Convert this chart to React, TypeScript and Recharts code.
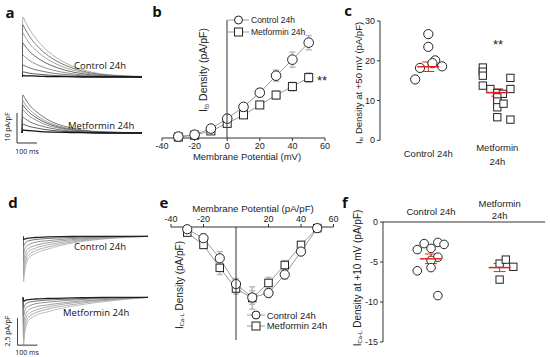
import React from 'react'
import { LineChart, Line, XAxis, YAxis, ScatterChart, Scatter, ErrorBar, ReferenceLine, Legend } from 'recharts'

const AXIS_FONT = '"Liberation Sans", Arial, sans-serif'
const TEXT_FONT = '"Open Sans", sans-serif'
const INK = '#222'
const RED = '#e8221c'

// a: Ito current traces (pA/pF), sampled at these times (ms)
const ITO_TIMES = [0, 4, 15, 35, 70, 110, 160, 220, 300, 400, 600]
const ITO_CONTROL_TRACES = [
    [0, 20.0, 18.6, 16.2, 12.8, 9.8, 7.0, 4.6, 2.5, 1.0, 0.2],
    [0, 17.4, 16.1, 13.8, 10.8, 8.2, 5.8, 3.8, 2.0, 0.8, 0.1],
    [0, 14.7, 13.5, 11.4, 8.9, 6.7, 4.7, 3.0, 1.6, 0.6, 0.1],
    [0, 11.3, 10.4, 8.7, 6.7, 5.0, 3.5, 2.2, 1.1, 0.4, 0.1],
    [0, 7.3, 6.7, 5.6, 4.3, 3.2, 2.2, 1.4, 0.7, 0.3, 0],
    [0, 4.0, 3.7, 3.1, 2.4, 1.8, 1.2, 0.8, 0.4, 0.1, 0],
    [0, 1.7, 1.6, 1.3, 1.0, 0.8, 0.5, 0.3, 0.2, 0.1, 0],
    [0, 0.5, 0.4, 0.4, 0.3, 0.2, 0.1, 0.1, 0, 0, 0],
]
const ITO_METFORMIN_TRACES = [
    [0, 12.7, 11.5, 9.5, 7.2, 5.2, 3.4, 2.1, 1.0, 0.4, 0.1],
    [0, 10.7, 9.7, 8.0, 6.0, 4.3, 2.8, 1.7, 0.8, 0.3, 0.1],
    [0, 9.3, 8.4, 6.9, 5.2, 3.7, 2.4, 1.4, 0.7, 0.3, 0],
    [0, 7.7, 7.0, 5.7, 4.3, 3.0, 2.0, 1.2, 0.6, 0.2, 0],
    [0, 5.3, 4.8, 3.9, 2.9, 2.1, 1.4, 0.8, 0.4, 0.1, 0],
    [0, 3.0, 2.7, 2.2, 1.7, 1.2, 0.8, 0.5, 0.2, 0.1, 0],
    [0, 1.0, 0.9, 0.8, 0.6, 0.4, 0.3, 0.2, 0.1, 0, 0],
]

// d: ICa-L current traces (pA/pF)
const ICA_TIMES = [0, 3, 8, 15, 30, 60, 120, 250, 400, 625]
const ICA_CONTROL_TRACES = [
    [0, -4.2, -3.3, -2.6, -2.0, -1.6, -1.2, -0.6, -0.25, 0],
    [0, -3.6, -2.8, -2.2, -1.7, -1.35, -1.0, -0.5, -0.2, 0],
    [0, -3.0, -2.3, -1.8, -1.4, -1.1, -0.8, -0.4, -0.15, 0],
    [0, -2.3, -1.8, -1.4, -1.1, -0.85, -0.6, -0.3, -0.1, 0],
    [0, -1.6, -1.2, -0.95, -0.75, -0.55, -0.4, -0.2, -0.05, 0],
    [0, -0.9, -0.7, -0.55, -0.4, -0.3, -0.2, -0.1, 0, 0],
    [0, -0.3, -0.25, -0.2, -0.15, -0.1, -0.05, 0, 0, 0],
]
const ICA_METFORMIN_TRACES = [
    [0, -4.4, -3.4, -2.7, -2.1, -1.7, -1.35, -0.8, -0.4, 0],
    [0, -3.8, -2.9, -2.3, -1.8, -1.45, -1.1, -0.65, -0.3, 0],
    [0, -3.1, -2.4, -1.9, -1.5, -1.2, -0.9, -0.5, -0.25, 0],
    [0, -2.4, -1.9, -1.5, -1.15, -0.9, -0.7, -0.4, -0.2, 0],
    [0, -1.7, -1.3, -1.0, -0.8, -0.6, -0.45, -0.25, -0.1, 0],
    [0, -1.0, -0.75, -0.6, -0.45, -0.35, -0.25, -0.15, -0.05, 0],
    [0, -0.35, -0.3, -0.25, -0.2, -0.15, -0.1, -0.05, 0, 0],
]

// b / e: I-V curves
const VOLTAGES = [-30, -20, -10, 0, 10, 20, 30, 40, 50]
const ITO_CONTROL = [0.3, 0.7, 2.0, 4.1, 6.6, 9.6, 13.2, 16.6, 20.2]
const ITO_CONTROL_SEM = [0.3, 0.3, 0.4, 0.6, 0.7, 0.8, 1.2, 1.6, 1.5]
const ITO_METFORMIN = [0.2, 0.6, 1.5, 3.1, 4.9, 7.0, 9.1, 10.9, 12.8]
const ITO_METFORMIN_SEM = [0.2, 0.3, 0.4, 0.5, 0.6, 0.7, 0.8, 0.9, 1.0]
const ICA_CONTROL = [-0.1, -0.9, -2.7, -5.0, -6.2, -5.8, -4.15, -2.1, 0]
const ICA_CONTROL_SEM = [0.2, 0.4, 0.6, 0.5, 0.6, 0.4, 0.4, 0.3, 0.1]
const ICA_METFORMIN = [-0.4, -1.5, -3.55, -5.4, -6.25, -4.9, -3.3, -1.5, 0]
const ICA_METFORMIN_SEM = [0.2, 0.3, 0.6, 0.5, 1.0, 0.5, 0.4, 0.3, 0.1]

// c: Ito at +50 mV per cell
const C_CONTROL = [26.7, 23.5, 20.1, 19.4, 18.2, 18.6, 15.3]
const C_CONTROL_JITTER = [0, 0, 0.1, 0.06, -0.12, 0.2, -0.19]
const C_METFORMIN = [18.3, 17.25, 16.25, 13.75, 12.9, 11.9, 11.7, 15.7, 12.9, 10.8, 9.75, 8.3, 9.2, 5.8, 5.2]
const C_METFORMIN_JITTER = [-0.21, -0.21, -0.21, -0.21, -0.1, 0, 0.08, 0.19, 0.19, 0, 0, 0, 0.09, 0, 0.19]
const C_MEANS = [18.5, 12.0]
const C_SEMS = [1.2, 0.9]

// f: ICa-L at +10 mV per cell
const F_CONTROL = [-3.45, -2.7, -3.3, -2.55, -2.8, -4.4, -4.8, -5.7, -6.1, -9.2]
const F_CONTROL_JITTER = [-0.2, -0.1, 0, 0.1, 0.19, 0.1, 0, 0, -0.2, 0.1]
const F_METFORMIN = [-5.2, -4.7, -5.6, -7.2]
const F_METFORMIN_JITTER = [0, 0.09, 0.2, 0]
const F_MEANS = [-4.6, -5.7]
const F_SEMS = [0.6, 0.5]

// scale bars, in data units of the metformin trace charts
const SCALE_A = { t0: -25, t1: 75, top: 6.67, bottom: -3.33 }
const SCALE_D = { t0: -28, t1: 72, top: -1.92, bottom: -4.42 }

const ITO_COLORS = ['#9a9a9a', '#555', '#8a8a8a', '#444', '#777', '#555', '#333', '#111']
const ICA_COLORS = ['#aaa', '#999', '#999', '#888', '#777', '#555', '#222']

const traceRows = (times: number[], traces: number[][]) =>
    times.map((t, i) => {
        const row: any = { t }
        traces.forEach((tr, k) => { row['s' + k] = tr[i] })
        return row
    })

const ivRows = (a: number[], aErr: number[], b: number[], bErr: number[]) =>
    VOLTAGES.map((v, i) => ({ v, ctrl: a[i], ctrlErr: aErr[i], met: b[i], metErr: bErr[i] }))

const cellPoints = (center: number, values: number[], jitter: number[]) =>
    values.map((y, i) => ({ x: center + jitter[i], y }))

const Box = ({ left, top, children }: any) => (
    <div style={{ position: 'absolute', left, top }}>{children}</div>
)

const circleShape = (r: number) => (p: any) => (
    <circle key={p.index} cx={p.cx} cy={p.cy} r={r} fill="#fff" stroke={INK} strokeWidth={1} />
)
const squareShape = (s: number) => (p: any) => (
    <rect key={p.index} x={p.cx - s / 2} y={p.cy - s / 2} width={s} height={s} fill="#fff" stroke={INK} strokeWidth={1} />
)
const meanShape = (p: any) => (
    <line x1={p.cx - 11} x2={p.cx + 11} y1={p.cy} y2={p.cy} stroke={RED} strokeWidth={1.5} />
)

const makeLegend = (rowHeight: number, fontSize: number, iconWidth: number) => (props: any) => (
    <div style={{ fontFamily: AXIS_FONT, fontSize, color: INK }}>
        {(props.payload || []).map((item: any, i: number) => (
            <div key={i} style={{ display: 'flex', alignItems: 'center', height: rowHeight, whiteSpace: 'nowrap' }}>
                <svg width={iconWidth} height={10} style={{ marginRight: 2 }}>
                    <line x1={0} y1={5} x2={iconWidth} y2={5} stroke="#999" />
                    {String(item.value).startsWith('Control')
                        ? <circle cx={iconWidth / 2} cy={5} r={4} fill="#fff" stroke={INK} />
                        : <rect x={iconWidth / 2 - 4} y={1} width={8} height={8} fill="#fff" stroke={INK} />}
                </svg>
                <span>{item.value}</span>
            </div>
        ))}
    </div>
)

const categoryTick = (ctrlDy: number, metDy: number[]) => (props: any) => {
    const { x, y, payload } = props
    const style = { fontFamily: AXIS_FONT, fontSize: 9.5, fill: INK }
    if (payload.value === 1) {
        return <text x={x} y={y + ctrlDy} textAnchor="middle" dominantBaseline="central" style={style}>Control 24h</text>
    }
    return (
        <g>
            <text x={x} y={y + metDy[0]} textAnchor="middle" dominantBaseline="central" style={style}>Metformin</text>
            <text x={x} y={y + metDy[1]} textAnchor="middle" dominantBaseline="central" style={style}>24h</text>
        </g>
    )
}

const tickStyle = { fontFamily: AXIS_FONT, fontSize: 9, fill: INK }
const axisLine = { stroke: '#333' }

function Traces({ rows, count, colors, xDomain, yDomain, width, height, scale }: any) {
    return (
        <LineChart width={width} height={height} data={rows} margin={{ top: 0, right: 0, bottom: 0, left: 0 }}>
            <XAxis dataKey="t" type="number" domain={xDomain} hide />
            <YAxis type="number" domain={yDomain} hide />
            {Array.from({ length: count }, (_, k) => (
                <Line key={k} dataKey={'s' + k} type="monotone" dot={false} stroke={colors[k]}
                    strokeWidth={k === count - 1 ? 1.3 : 0.8} isAnimationActive={false} />
            ))}
            {scale && (
                <ReferenceLine segment={[{ x: scale.t0, y: scale.top }, { x: scale.t0, y: scale.bottom }]} stroke="#333" />
            )}
            {scale && (
                <ReferenceLine segment={[{ x: scale.t0, y: scale.bottom }, { x: scale.t1, y: scale.bottom }]} stroke="#333" />
            )}
        </LineChart>
    )
}

function YOnly({ domain, ticks, height, top, bottom }: any) {
    return (
        <LineChart width={40} height={height} data={[{ v: 0 }]} margin={{ top, right: 9, bottom, left: 0 }}>
            <XAxis dataKey="v" type="number" domain={[0, 1]} hide />
            <YAxis type="number" domain={domain} ticks={ticks} width={30} tickSize={3}
                tick={tickStyle} axisLine={axisLine} tickLine={axisLine} interval={0} />
        </LineChart>
    )
}

function YLabel({ x, y, sub, rest, size }: any) {
    return (
        <text transform={`translate(${x},${y}) rotate(-90)`} textAnchor="middle" dominantBaseline="central"
            style={{ fontFamily: AXIS_FONT, fontSize: size, fill: INK }}>
            I<tspan dy={3} fontSize={size * 0.6}>{sub}</tspan><tspan dy={-3}>{rest}</tspan>
        </text>
    )
}

export default function App() {
    const itoCtrlRows = traceRows(ITO_TIMES, ITO_CONTROL_TRACES)
    const itoMetRows = traceRows(ITO_TIMES, ITO_METFORMIN_TRACES)
    const icaCtrlRows = traceRows(ICA_TIMES, ICA_CONTROL_TRACES)
    const icaMetRows = traceRows(ICA_TIMES, ICA_METFORMIN_TRACES)
    const bRows = ivRows(ITO_CONTROL, ITO_CONTROL_SEM, ITO_METFORMIN, ITO_METFORMIN_SEM)
    const eRows = ivRows(ICA_CONTROL, ICA_CONTROL_SEM, ICA_METFORMIN, ICA_METFORMIN_SEM)
    const cMeans = C_MEANS.map((y, i) => ({ x: i + 1, y, err: C_SEMS[i] }))
    const fMeans = F_MEANS.map((y, i) => ({ x: i + 1, y, err: F_SEMS[i] }))

    const letter = { fontFamily: TEXT_FONT, fontSize: 15, fontWeight: 700, fill: '#111' }
    const traceText = { fontFamily: TEXT_FONT, fontSize: 9.5, fill: '#111' }
    const smallText = { fontFamily: TEXT_FONT, fontSize: 7, fill: '#111' }
    const axisTitle = { fontFamily: AXIS_FONT, fontSize: 9.5, fill: INK }

    return (
        <div style={{ position: 'absolute', left: 0, top: 0, width: 550, height: 357, background: '#fff', overflow: 'hidden' }}>
            {/* a */}
            <Box left={22} top={14}>
                <Traces rows={itoCtrlRows} count={8} colors={ITO_COLORS} xDomain={[0, 600]} yDomain={[-1, 21]} width={120} height={66} />
            </Box>
            <Box left={16} top={91}>
                <Traces rows={itoMetRows} count={7} colors={ITO_COLORS.slice(1)} xDomain={[-30, 600]} yDomain={[-4, 14]}
                    width={126} height={54} scale={SCALE_A} />
            </Box>

            {/* d */}
            <Box left={22.7} top={231.3}>
                <Traces rows={icaCtrlRows} count={7} colors={ICA_COLORS} xDomain={[0, 625]} yDomain={[-4.5, 0.5]} width={125} height={54} />
            </Box>
            <Box left={16.7} top={291.9}>
                <Traces rows={icaMetRows} count={7} colors={ICA_COLORS} xDomain={[-30, 625]} yDomain={[-4.6, 0.5]}
                    width={131} height={55.1} scale={SCALE_D} />
            </Box>

            {/* b */}
            <Box left={150} top={10}>
                <LineChart width={185} height={148} data={bRows} margin={{ top: 10, right: 10, bottom: 0, left: 12 }}>
                    <XAxis dataKey="v" type="number" domain={[-40, 60]} ticks={[-40, -20, 0, 20, 40, 60]} height={20}
                        tickSize={3} tick={tickStyle} axisLine={axisLine} tickLine={axisLine} interval={0} />
                    <YAxis type="number" domain={[0, 25]} hide />
                    <Line dataKey="met" name="Metformin 24h" stroke="#999" strokeWidth={1} dot={squareShape(8)} isAnimationActive={false}>
                        <ErrorBar dataKey="metErr" stroke="#bbb" width={3} />
                    </Line>
                    <Line dataKey="ctrl" name="Control 24h" stroke="#999" strokeWidth={1} dot={circleShape(4.8)} isAnimationActive={false}>
                        <ErrorBar dataKey="ctrlErr" stroke="#bbb" width={3} />
                    </Line>
                    <Legend layout="vertical" align="center" verticalAlign="middle" content={makeLegend(11.7, 8.5, 21)}
                        wrapperStyle={{ left: 78, top: 4, width: 110 }} />
                </LineChart>
            </Box>
            <Box left={197} top={10}>
                <YOnly domain={[0, 25]} ticks={[5, 10, 15, 20, 25]} height={128} top={10} bottom={0} />
            </Box>

            {/* e */}
            <Box left={159} top={207}>
                <LineChart width={184.5} height={138} data={eRows} margin={{ top: 0, right: 10, bottom: 5, left: 12 }}>
                    <XAxis dataKey="v" type="number" orientation="top" domain={[-40, 60]} ticks={[-40, -20, 20, 40, 60]} height={20}
                        tickSize={3} tick={tickStyle} axisLine={axisLine} tickLine={axisLine} interval={0} />
                    <YAxis type="number" domain={[-10, 0]} hide />
                    <Line dataKey="met" name="Metformin 24h" stroke="#999" strokeWidth={1} dot={squareShape(7.5)} isAnimationActive={false}>
                        <ErrorBar dataKey="metErr" stroke="#bbb" width={3} />
                    </Line>
                    <Line dataKey="ctrl" name="Control 24h" stroke="#999" strokeWidth={1} dot={circleShape(4.6)} isAnimationActive={false}>
                        <ErrorBar dataKey="ctrlErr" stroke="#bbb" width={3} />
                    </Line>
                    <Legend layout="vertical" align="center" verticalAlign="middle" content={makeLegend(10.7, 9.5, 18)}
                        wrapperStyle={{ left: 87.7, top: 102.7, width: 100 }} />
                </LineChart>
            </Box>
            <Box left={206} top={227}>
                <YOnly domain={[-10, 0]} ticks={[-10, -8, -6, -4, -2]} height={113} top={0} bottom={0} />
            </Box>

            {/* c */}
            <Box left={357.7} top={10.7}>
                <ScatterChart width={187.6} height={159.3} margin={{ top: 10, right: 0, bottom: 0, left: 0 }}>
                    <XAxis dataKey="x" type="number" domain={[0.3, 2.7]} ticks={[1, 2]} height={30} axisLine={false}
                        tickLine={false} tickSize={0} tickMargin={0} tick={categoryTick(13, [7.7, 21])} interval={0} />
                    <YAxis dataKey="y" type="number" domain={[0, 30]} ticks={[0, 10, 20, 30]} width={22} tickSize={3}
                        tick={tickStyle} axisLine={axisLine} tickLine={axisLine} interval={0} />
                    <Scatter data={cellPoints(1, C_CONTROL, C_CONTROL_JITTER)} shape={circleShape(4.6)} isAnimationActive={false} />
                    <Scatter data={cellPoints(2, C_METFORMIN, C_METFORMIN_JITTER)} shape={squareShape(7.3)} isAnimationActive={false} />
                    <Scatter data={cMeans} shape={meanShape} isAnimationActive={false}>
                        <ErrorBar dataKey="err" direction="y" stroke={RED} width={6} strokeWidth={1} />
                    </Scatter>
                </ScatterChart>
            </Box>

            {/* f */}
            <Box left={360.7} top={191.7}>
                <ScatterChart width={184.6} height={155} margin={{ top: 0, right: 0, bottom: 5, left: 0 }}>
                    <XAxis dataKey="x" type="number" orientation="top" domain={[0.3, 2.67]} ticks={[1, 2]} height={30}
                        axisLine={axisLine} tickLine={false} tickSize={0} tickMargin={0} tick={categoryTick(-10, [-18.7, -6.7])} interval={0} />
                    <YAxis dataKey="y" type="number" domain={[-15, 0]} ticks={[-15, -10, -5, 0]} width={22} tickSize={3}
                        tick={tickStyle} axisLine={axisLine} tickLine={axisLine} interval={0} />
                    <Scatter data={cellPoints(1, F_CONTROL, F_CONTROL_JITTER)} shape={circleShape(4.3)} isAnimationActive={false} />
                    <Scatter data={cellPoints(2, F_METFORMIN, F_METFORMIN_JITTER)} shape={squareShape(7.3)} isAnimationActive={false} />
                    <Scatter data={fMeans} shape={meanShape} isAnimationActive={false}>
                        <ErrorBar dataKey="err" direction="y" stroke={RED} width={6} strokeWidth={1} />
                    </Scatter>
                </ScatterChart>
            </Box>

            {/* labels */}
            <svg width={550} height={357} style={{ position: 'absolute', left: 0, top: 0, pointerEvents: 'none' }}>
                <text x={10} y={12} textAnchor="middle" dominantBaseline="central" style={letter}>a</text>
                <text x={157} y={11} textAnchor="middle" dominantBaseline="central" style={letter}>b</text>
                <text x={348} y={10} textAnchor="middle" dominantBaseline="central" style={letter}>c</text>
                <text x={13} y={202} textAnchor="middle" dominantBaseline="central" style={letter}>d</text>
                <text x={164} y={202} textAnchor="middle" dominantBaseline="central" style={letter}>e</text>
                <text x={345} y={202} textAnchor="middle" dominantBaseline="central" style={letter}>f</text>

                <text x={74} y={65} dominantBaseline="central" style={traceText}>Control 24h</text>
                <text x={68} y={125} dominantBaseline="central" style={traceText}>Metformin 24h</text>
                <text transform="translate(7,127) rotate(-90)" textAnchor="middle" dominantBaseline="central" style={smallText}>10 pA/pF</text>
                <text x={27} y={151} textAnchor="middle" dominantBaseline="central" style={smallText}>100 ms</text>

                <text x={74} y={246} dominantBaseline="central" style={traceText}>Control 24h</text>
                <text x={63} y={312} dominantBaseline="central" style={traceText}>Metformin 24h</text>
                <text transform="translate(7,331) rotate(-90)" textAnchor="middle" dominantBaseline="central" style={smallText}>2,5 pA/pF</text>
                <text x={27} y={352} textAnchor="middle" dominantBaseline="central" style={smallText}>100 ms</text>

                <YLabel x={203} y={70} sub="to" rest=" Density (pA/pF)" size={10.5} />
                <text x={247} y={156} textAnchor="middle" dominantBaseline="central" style={axisTitle}>Membrane Potential (mV)</text>
                <text x={322} y={80} textAnchor="middle" dominantBaseline="central" style={{ ...axisTitle, fontSize: 13 }}>**</text>

                <YLabel x={358} y={83} sub="to" rest=" Density at +50 mV (pA/pF)" size={9.5} />
                <text x={498} y={44} textAnchor="middle" dominantBaseline="central" style={{ ...axisTitle, fontSize: 13 }}>**</text>

                <text x={253} y={208} textAnchor="middle" dominantBaseline="central" style={{ ...axisTitle, fontSize: 9.7 }}>Membrane Potential (pA/pF)</text>
                <YLabel x={179} y={285} sub="Ca-L" rest=" Density (pA/pF)" size={10} />

                <YLabel x={357} y={278} sub="Ca-L" rest=" Density at +10 mV (pA/pF)" size={10} />
            </svg>
        </div>
    )
}
